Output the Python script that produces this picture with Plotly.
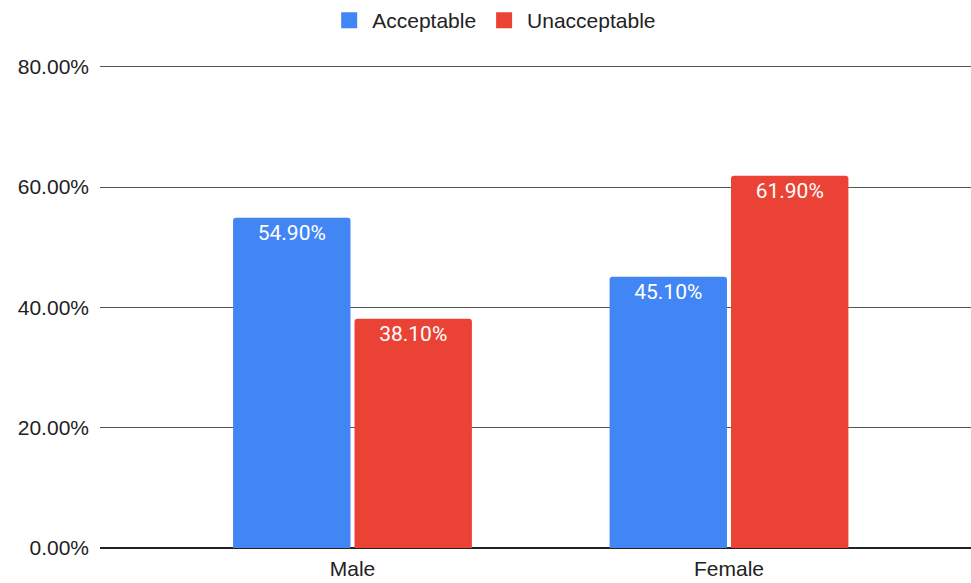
import plotly.graph_objects as go

categories = ["Male", "Female"]
acceptable = [54.9, 45.1]
unacceptable = [38.1, 61.9]
series_names = ["Acceptable", "Unacceptable"]
colors = ["#4285F4", "#EA4335"]
y_ticks = [0, 20, 40, 60, 80]

fig = go.Figure()
for name, vals, col in zip(series_names, [acceptable, unacceptable], colors):
    fig.add_trace(go.Bar(
        x=categories, y=vals, name=name, marker=dict(color=col, cornerradius=3, line=dict(width=0)),
        text=[f"{v:.2f}%" for v in vals], textposition="inside", insidetextanchor="end",
        textangle=0,
        textfont=dict(family="Roboto", size=21, color="white"),
        showlegend=False, hoverinfo="skip",
    ))
    fig.add_trace(go.Scatter(
        x=[None], y=[None], mode="markers", name=name,
        marker=dict(symbol="square", size=22, color=col),
    ))

fig.update_layout(
    width=971, height=583,
    margin=dict(l=100, r=0, t=60, b=35),
    paper_bgcolor="white", plot_bgcolor="white",
    barmode="group", bargap=0.355, bargroupgap=0.033,
    uniformtext=dict(mode=False),
    font=dict(family="Liberation Sans", size=21, color="#222"),
    legend=dict(orientation="h", x=0.452, xanchor="center", y=1.086, yanchor="middle",
                itemwidth=36,
                font=dict(family="Liberation Sans", size=21, color="#222"), tracegroupgap=0),
    xaxis=dict(range=[-0.6706, 1.6428], showgrid=False, showline=False, ticks="",
               ticklabelstandoff=6,
               tickfont=dict(family="Liberation Sans", size=21, color="#222")),
    yaxis=dict(range=[0, 80.8], tickvals=y_ticks, ticktext=[f"{v:.2f}%" for v in y_ticks],
               showgrid=True, gridcolor="#555", gridwidth=1.2, zeroline=True, zerolinecolor="#222",
               zerolinewidth=1.5, ticks="", ticklabelstandoff=10,
               tickfont=dict(family="Liberation Sans", size=21, color="#222")),
)

fig.write_html("out.html")
